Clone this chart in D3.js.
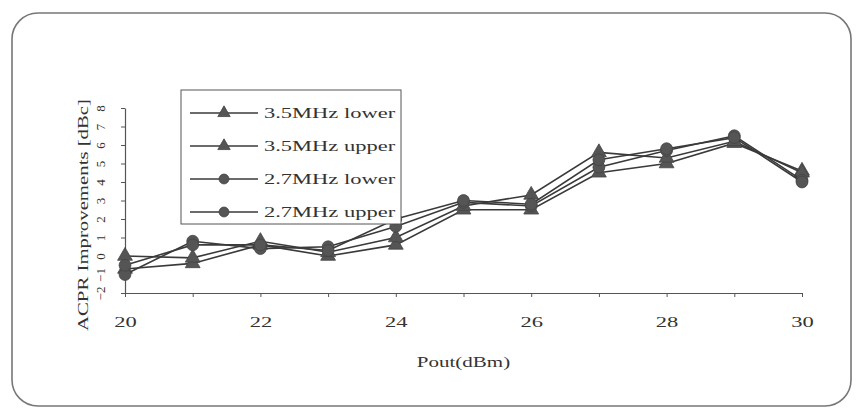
<!DOCTYPE html>
<html>
<head>
<meta charset="utf-8">
<script src="https://cdn.jsdelivr.net/npm/d3@7"></script>
<style>
  body { margin: 0; background: #fff; }
  text { font-family: "Liberation Serif", "DejaVu Serif", serif; fill: #333; }
</style>
</head>
<body>
<svg id="chart" width="861" height="412"></svg>
<script>
// DATA
const pout = [20, 21, 22, 23, 24, 25, 26, 27, 28, 29, 30];
const lower35 = [-0.7, -0.4, 0.6, 0.0, 0.6, 2.5, 2.5, 4.5, 5.0, 6.1, 4.6];
const upper35 = [0.0, -0.1, 0.8, 0.2, 1.0, 2.7, 3.3, 5.6, 5.3, 6.2, 4.5];
const lower27 = [-1.0, 0.8, 0.4, 0.5, 1.6, 2.9, 2.7, 4.8, 5.7, 6.5, 4.1];
const upper27 = [-0.5, 0.6, 0.6, 0.3, 2.0, 3.0, 2.8, 5.2, 5.8, 6.4, 4.0];
const seriesNames = ["3.5MHz lower", "3.5MHz upper", "2.7MHz lower", "2.7MHz upper"];
const seriesMarkers = ["triangle", "triangle", "circle", "circle"];
const xTicks = [20, 21, 22, 23, 24, 25, 26, 27, 28, 29, 30];
const yTicks = [-2, -1, 0, 1, 2, 3, 4, 5, 6, 7, 8];

const series = [lower35, upper35, lower27, upper27].map((vals, i) => ({
  name: seriesNames[i],
  marker: seriesMarkers[i],
  values: vals.map((v, j) => ({ x: pout[j], y: v }))
}));

const svg = d3.select("#chart");
const stretch = 1.5; // scanned figure is horizontally stretched

// frame
svg.append("rect")
  .attr("x", 12).attr("y", 13)
  .attr("width", 839).attr("height", 393)
  .attr("rx", 26).attr("ry", 26)
  .attr("fill", "#fff")
  .attr("stroke", "#777")
  .attr("stroke-width", 1.6);

// scales
const x = d3.scaleLinear().domain([20, 30]).range([125, 802]);
const y = d3.scaleLinear().domain([-2, 8]).range([293, 108]);

// x axis
const xAxisG = svg.append("g")
  .attr("transform", `translate(0,${y(-2)})`)
  .call(d3.axisBottom(x).tickValues(xTicks).tickSize(4).tickSizeOuter(0)
    .tickFormat(d => d % 2 === 0 ? d : ""));
xAxisG.select(".domain").attr("stroke", "#555").attr("stroke-width", 1.2);
xAxisG.selectAll(".tick line").attr("stroke", "#555");
xAxisG.selectAll(".tick text")
  .attr("y", 0).attr("dy", "0.35em")
  .attr("transform", `translate(0,29) scale(${stretch},1)`)
  .style("font-size", "15px")
  .attr("fill", "#333");

// y axis
const yAxisG = svg.append("g")
  .attr("transform", `translate(${x(20)},0)`)
  .call(d3.axisLeft(y).tickValues(yTicks).tickSize(4).tickSizeOuter(0));
yAxisG.select(".domain").attr("stroke", "#555").attr("stroke-width", 1.2);
yAxisG.selectAll(".tick line").attr("stroke", "#555");
yAxisG.selectAll(".tick text")
  .attr("x", 0).attr("y", -25).attr("dy", "0.35em")
  .attr("transform", "rotate(-90)")
  .attr("text-anchor", "middle")
  .style("font-size", "13px")
  .attr("fill", "#333");

// axis titles
svg.append("text")
  .attr("transform", `translate(${(x(20) + x(30)) / 2},362) scale(${stretch},1)`)
  .attr("text-anchor", "middle")
  .attr("dy", "0.35em")
  .style("font-size", "14px")
  .text("Pout(dBm)");

svg.append("text")
  .attr("transform", "translate(83,215) rotate(-90)")
  .attr("text-anchor", "middle")
  .attr("dy", "0.35em")
  .attr("textLength", 232)
  .attr("lengthAdjust", "spacingAndGlyphs")
  .style("font-size", "15px")
  .text("ACPR Improvements [dBc]");

// lines
const line = d3.line().x(d => x(d.x)).y(d => y(d.y));
const markerSym = (m, k) => d3.symbol()
  .type(m === "triangle" ? d3.symbolTriangle : d3.symbolCircle)
  .size((m === "triangle" ? 95 : 110) * k);

const sg = svg.append("g").selectAll("g")
  .data(series)
  .join("g");

sg.append("path")
  .attr("d", d => line(d.values))
  .attr("fill", "none")
  .attr("stroke", "#3a3a3a")
  .attr("stroke-width", 1.6);

sg.selectAll("path.pt")
  .data(d => d.values.map(v => ({ ...v, marker: d.marker })))
  .join("path")
  .attr("class", "pt")
  .attr("transform", d => `translate(${x(d.x)},${y(d.y)})`)
  .attr("d", d => markerSym(d.marker, 1)())
  .attr("fill", "#555")
  .attr("stroke", "#444")
  .attr("stroke-width", 0.8);

// legend
const legend = svg.append("g");
legend.append("rect")
  .attr("x", 181).attr("y", 90)
  .attr("width", 220).attr("height", 134)
  .attr("fill", "#fff")
  .attr("stroke", "#555")
  .attr("stroke-width", 1);

const rowY = d3.scalePoint().domain(seriesNames).range([113, 212]);
const item = legend.selectAll("g.item")
  .data(series)
  .join("g")
  .attr("class", "item")
  .attr("transform", d => `translate(0,${rowY(d.name)})`);

item.append("line")
  .attr("x1", 190).attr("x2", 258)
  .attr("stroke", "#3a3a3a")
  .attr("stroke-width", 1.6);

item.append("path")
  .attr("transform", "translate(224,0)")
  .attr("d", d => markerSym(d.marker, 0.7)())
  .attr("fill", "#555")
  .attr("stroke", "#444")
  .attr("stroke-width", 0.8);

item.append("text")
  .attr("transform", `translate(264,0) scale(${stretch},1)`)
  .attr("dy", "0.35em")
  .style("font-size", "15px")
  .text(d => d.name);
</script>
</body>
</html>
